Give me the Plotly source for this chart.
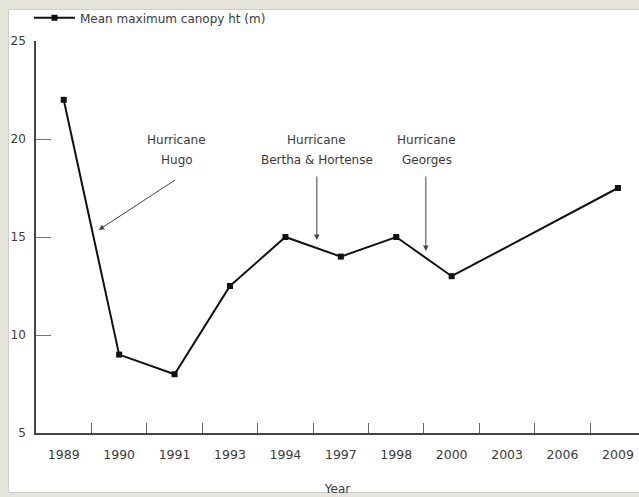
import plotly.graph_objects as go

# ---- data ----
years = ["1989", "1990", "1991", "1993", "1994", "1997", "1998", "2000", "2003", "2006", "2009"]
canopy_ht = [22, 9, 8, 12.5, 15, 14, 15, 13, None, None, 17.5]
series_name = "Mean maximum canopy ht (m)"

hurricane_titles = ["Hurricane", "Hurricane", "Hurricane"]
hurricane_names = ["Hugo", "Bertha & Hortense", "Georges"]
# label anchor (category index, value) and arrow tip (category index, value)
label_x = [2.04, 4.567, 6.55]
label_y = [19.45, 19.45, 19.45]
tip_x = [0.632, 4.567, 6.534]
tip_y = [15.36, 14.85, 14.29]
tip_ax = [78, 0, 0]
tip_ay = [-51, -65, -76]

FONT = "DejaVu Sans"
TXT = "#3a3a3a"
ANN_SIZE = 12

fig = go.Figure()
fig.add_trace(go.Scatter(
    x=years, y=canopy_ht, name=series_name, mode="lines+markers",
    connectgaps=True,
    line=dict(color="#111111", width=2),
    marker=dict(symbol="square", size=6, color="#111111"),
))

annotations = []
for i in range(3):
    annotations.append(dict(x=label_x[i], y=label_y[i], xref="x", yref="y",
                            text=hurricane_titles[i], showarrow=False,
                            yshift=10, font=dict(size=ANN_SIZE, color=TXT, family=FONT)))
    annotations.append(dict(x=label_x[i], y=label_y[i], xref="x", yref="y",
                            text=hurricane_names[i], showarrow=False,
                            yshift=-10, font=dict(size=ANN_SIZE, color=TXT, family=FONT)))
    annotations.append(dict(x=tip_x[i], y=tip_y[i], xref="x", yref="y",
                            text="", showarrow=True, ax=tip_ax[i], ay=tip_ay[i],
                            arrowhead=2, arrowsize=1.1, arrowwidth=1, arrowcolor="#444444"))

fig.update_layout(
    width=639, height=497,
    margin=dict(l=36, r=0, t=41, b=64),
    paper_bgcolor="#e4e4da",
    plot_bgcolor="white",
    font=dict(family=FONT, size=12, color=TXT),
    showlegend=True,
    legend=dict(x=-0.0116, y=1.059, xanchor="left", yanchor="middle", itemwidth=41,
                bgcolor="rgba(0,0,0,0)", font=dict(size=ANN_SIZE, color=TXT, family=FONT)),
    annotations=annotations,
    shapes=[dict(type="rect", xref="paper", yref="paper",
                 x0=-0.0456, x1=1.01, y0=-0.1518, y1=1.0804,
                 fillcolor="white", line=dict(color="#cfcfcf", width=1), layer="below")],
    xaxis=dict(type="category", range=[-0.5, 10.38], tickson="boundaries",
               ticks="inside", ticklen=10, tickcolor="#666666", tickwidth=1,
               showline=True, linecolor="#444444", linewidth=1.5,
               showgrid=False, zeroline=False, ticklabelstandoff=9,
               tickfont=dict(size=12.5, color=TXT, family=FONT),
               title=dict(text="Year", font=dict(size=12, color=TXT, family=FONT), standoff=24)),
    yaxis=dict(range=[5, 25], tickvals=[5, 10, 15, 20, 25],
               ticks="inside", ticklen=15, tickcolor="#777777", tickwidth=1,
               showline=True, linecolor="#444444", linewidth=1.5,
               showgrid=False, zeroline=False, ticklabelstandoff=6,
               tickfont=dict(size=12, color=TXT, family=FONT)),
)

fig.write_html("out.html",
               config={"displayModeBar": False},
               post_script="document.body.style.margin='0';document.body.style.background='#e4e4da';")
